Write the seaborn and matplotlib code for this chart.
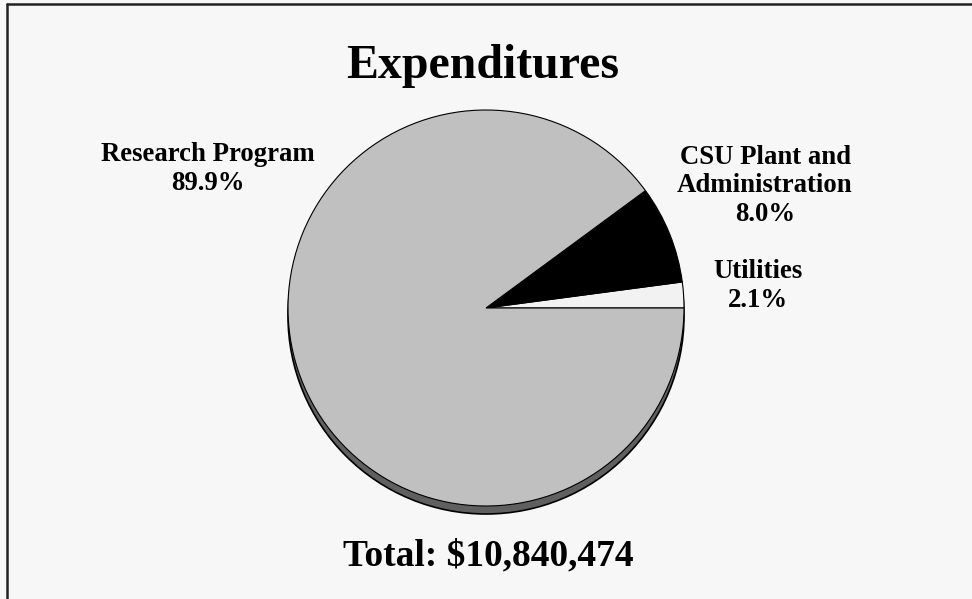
import matplotlib
matplotlib.use("Agg")
import matplotlib.pyplot as plt
import seaborn as sns
from matplotlib.patches import Circle

# Expenditure shares (percent), counter-clockwise from 3 o'clock
categories = ["Utilities", "CSU Plant and\nAdministration", "Research Program"]
shares = [2.1, 8.0, 89.9]
colors = ["#f2f2f2", "#000000", "#c0c0c0"]
title = "Expenditures"
total_text = "Total: $10,840,474"

sns.set_theme(style="white")
plt.rcParams["font.family"] = ["Liberation Serif", "DejaVu Serif"]
plt.rcParams["text.color"] = "black"

W, H = 972, 599
fig = plt.figure(figsize=(W / 100, H / 100), dpi=100, facecolor="#f7f7f7")
ax = fig.add_axes([0, 0, 1, 1])
ax.set_facecolor("#f7f7f7")
ax.set_xlim(0, W)
ax.set_ylim(0, H)
ax.set_aspect("equal")
ax.axis("off")

cx, cy, r, depth = 486, H - 308, 198, 8

# depth / shadow under the pie
ax.add_patch(Circle((cx, cy - depth), r, facecolor="#606060", edgecolor="black", lw=1.2, zorder=1))

wedges, _ = ax.pie(shares, colors=colors, startangle=0, counterclock=True,
                   center=(cx, cy), radius=r,
                   wedgeprops=dict(edgecolor="black", linewidth=0.8))
for w in wedges:
    w.set_zorder(2)
ax.set_xlim(0, W)
ax.set_ylim(0, H)

# labels
labels = [f"{c}\n{s:.1f}%" for c, s in zip(categories, shares)]
label_pos = [(758, H - 286), (765, H - 186), (208, H - 169)]
for txt, (x, y) in zip(labels, label_pos):
    ax.text(x, y, txt, ha="center", va="center", fontsize=19.3, fontweight="bold",
            linespacing=1.2, color="black", zorder=5)

ax.text(483, H - 78, title, ha="center", va="baseline", fontsize=34.5, fontweight="bold", color="black")
ax.text(488, H - 565, total_text, ha="center", va="baseline", fontsize=27, fontweight="bold", color="black")

# frame lines (top and left)
ax.plot([7, W], [H - 3.5, H - 3.5], color="#222222", lw=1.8, clip_on=False)
ax.plot([7, 7], [0, H - 3.5], color="#222222", lw=1.8, clip_on=False)

fig.savefig("out.png", dpi=100, facecolor=fig.get_facecolor())
